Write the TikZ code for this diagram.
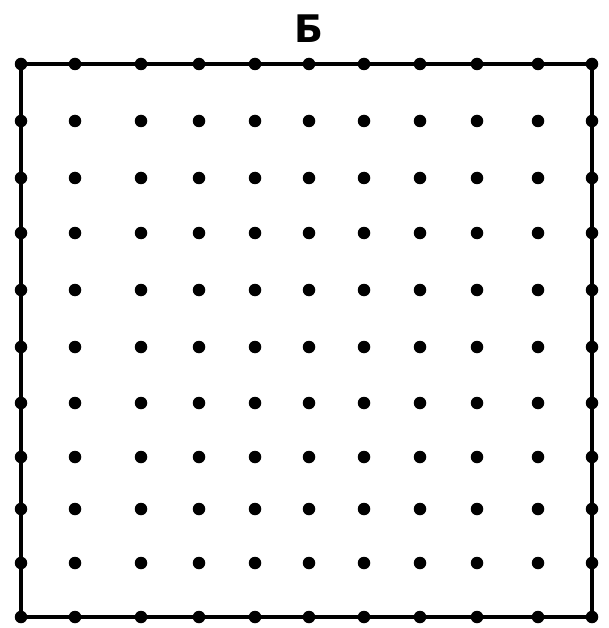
\documentclass[tikz,border=0pt]{standalone}
\usepackage{fontspec}
\newfontfamily\labelfont{DejaVu Sans}
\begin{document}
\begin{tikzpicture}[x=1pt,y=-1pt,
  dotnode/.style={circle,fill=black,inner sep=0pt,minimum size=12.5pt},
  frameline/.style={line width=3.6pt,line join=miter}]
\useasboundingbox (0,0) rectangle (608,628);
\foreach \x [count=\i] in {21,75,141,199,255,309,364,420,477,538,592}{
  \foreach \y [count=\j] in {64,121,178,233,290,347,403,457,509,563,617}{
    \node[dotnode] (d-\i-\j) at (\x,\y) {};
  }
}
\draw[frameline] (d-1-1.center) -- (d-11-1.center) -- (d-11-11.center) -- (d-1-11.center) -- cycle;
\node[font=\labelfont\bfseries\fontsize{38}{40}\selectfont,inner sep=0pt] (title) at (309,29) {Б};
\end{tikzpicture}
\end{document}
